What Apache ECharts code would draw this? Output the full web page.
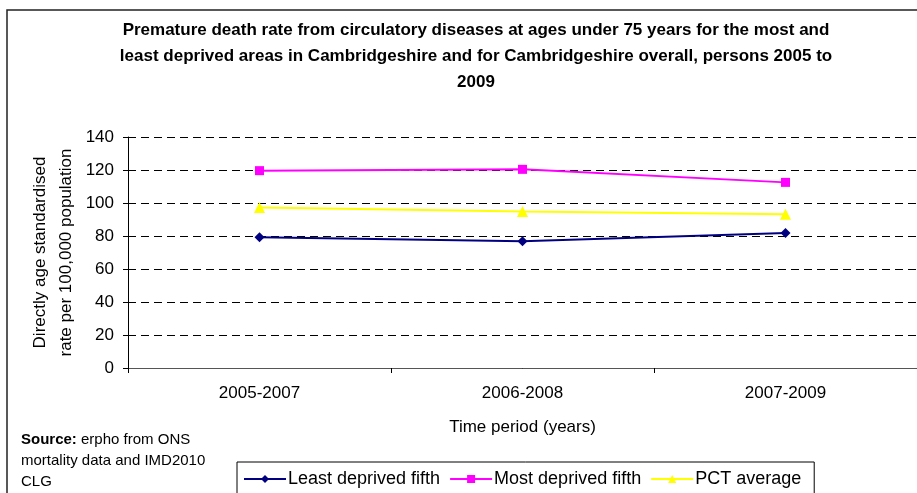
<!DOCTYPE html>
<html>
<head>
<meta charset="utf-8">
<script src="https://cdn.jsdelivr.net/npm/echarts@6/dist/echarts.min.js"></script>
<style>
  html, body { margin: 0; padding: 0; background: #fff; }
  #chart { width: 917px; height: 493px; }
</style>
</head>
<body>
<div id="chart"></div>
<script>
// Time periods (3-year pooled)
var periods = ['2005-2007', '2006-2008', '2007-2009'];

// Directly age standardised rates per 100,000 population
var leastDeprived = [79.2, 76.8, 81.8];
var mostDeprived = [119.6, 120.4, 112.5];
var pctAverage = [97.3, 94.8, 93.2];

var seriesNames = ['Least deprived fifth', 'Most deprived fifth', 'PCT average'];

var FONT = '"Liberation Sans", Arial, sans-serif';

var chart = echarts.init(document.getElementById('chart'), null, { renderer: 'canvas' });

chart.setOption({
  backgroundColor: '#fff',
  animation: false,
  textStyle: { fontFamily: FONT, color: '#000' },
  title: {
    text: 'Premature death rate from circulatory diseases at ages under 75 years for the most and\nleast deprived areas in Cambridgeshire and for Cambridgeshire overall, persons 2005 to\n2009',
    left: 471,
    textAlign: 'center',
    top: 12,
    textStyle: {
      fontFamily: FONT,
      fontSize: 17,
      fontWeight: 'bold',
      color: '#000',
      lineHeight: 26
    }
  },
  graphic: [
    {
      type: 'rect',
      shape: { x: 7, y: 10, width: 1000, height: 600 },
      style: { fill: null, stroke: '#222', lineWidth: 1.5 },
      silent: true,
      z: -1
    },
    {
      type: 'text',
      left: 21,
      top: 429,
      style: {
        text: '{b|Source:} erpho from ONS\nmortality data and IMD2010\nCLG',
        fontFamily: FONT,
        fontSize: 15,
        lineHeight: 21,
        fill: '#000',
        rich: {
          b: { fontWeight: 'bold', fontSize: 15, fontFamily: FONT, fill: '#000' }
        }
      }
    }
  ],
  legend: {
    data: seriesNames,
    left: 237,
    top: 462,
    orient: 'horizontal',
    padding: [8, 13, 14, 6],
    itemGap: 9,
    itemWidth: 42,
    itemHeight: 10,
    borderColor: '#000',
    borderWidth: 1,
    textStyle: { fontFamily: FONT, fontSize: 18, color: '#000', padding: [0, 0, 0, -3] }
  },
  grid: {
    left: 128,
    top: 137,
    width: 791,
    height: 231,
    containLabel: false
  },
  xAxis: {
    type: 'category',
    data: periods,
    boundaryGap: true,
    name: 'Time period (years)',
    nameLocation: 'middle',
    nameGap: 51,
    nameMoveOverlap: false,
    nameTextStyle: { fontFamily: FONT, fontSize: 17, color: '#000' },
    axisLine: { show: true, lineStyle: { color: '#555', width: 1 } },
    axisTick: { show: true, alignWithLabel: false, length: 5, lineStyle: { color: '#000' } },
    axisLabel: { fontFamily: FONT, fontSize: 17, color: '#000', margin: 17 },
    splitLine: { show: false }
  },
  yAxis: {
    type: 'value',
    min: 0,
    max: 140,
    interval: 20,
    name: 'Directly age standardised\nrate per 100,000 population',
    nameLocation: 'middle',
    nameRotate: 90,
    nameGap: 49,
    nameMoveOverlap: false,
    nameTextStyle: { fontFamily: FONT, fontSize: 17, color: '#000', lineHeight: 26 },
    axisLine: { show: true, lineStyle: { color: '#000', width: 1 } },
    axisTick: { show: true, inside: false, length: 5, lineStyle: { color: '#000' } },
    axisLabel: { fontFamily: FONT, fontSize: 17, color: '#000', margin: 14 },
    splitLine: { show: true, lineStyle: { color: '#000', type: [8, 5], width: 1 } }
  },
  series: [
    {
      name: seriesNames[0],
      type: 'line',
      data: leastDeprived,
      symbol: 'diamond',
      symbolSize: 10,
      itemStyle: { color: '#000080' },
      lineStyle: { color: '#000080', width: 2 }
    },
    {
      name: seriesNames[1],
      type: 'line',
      data: mostDeprived,
      symbol: 'rect',
      symbolSize: 9,
      itemStyle: { color: '#ff00ff' },
      lineStyle: { color: '#ff00ff', width: 2 }
    },
    {
      name: seriesNames[2],
      type: 'line',
      data: pctAverage,
      symbol: 'triangle',
      symbolSize: 11,
      itemStyle: { color: '#ffff00' },
      lineStyle: { color: '#ffff00', width: 2 }
    }
  ]
});
</script>
</body>
</html>
